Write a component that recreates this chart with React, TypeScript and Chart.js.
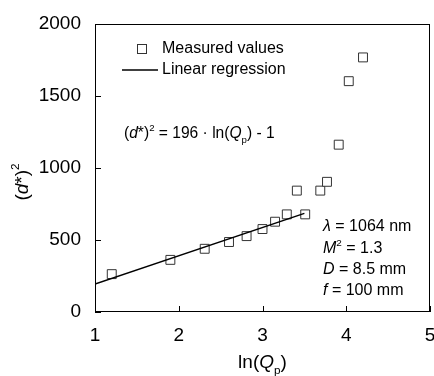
import React, { useEffect, useRef } from "react";
import { Chart, registerables } from "chart.js";

Chart.register(...registerables);

const lnQp = [1.2, 1.9, 2.31, 2.6, 2.81, 3.0, 3.15, 3.29, 3.41, 3.51, 3.69, 3.77, 3.91, 4.03, 4.2];
const dStar2 = [263, 362, 439, 486, 527, 576, 627, 678, 843, 678, 843, 904, 1162, 1603, 1768];
const fitX = [1, 3.5];
const fitY = [195, 685];
const xTicks = [1, 2, 3, 4, 5];
const yTicks = [0, 500, 1000, 1500, 2000];

const FONT = '"Liberation Sans", Arial, sans-serif';

type Seg = { t: string; i?: boolean; sup?: boolean; sub?: boolean };

function richWidth(ctx: CanvasRenderingContext2D, segs: Seg[], size: number) {
  let w = 0;
  for (const s of segs) {
    const fs = s.sup || s.sub ? size * 0.62 : size;
    ctx.font = `${s.i ? "italic " : ""}${fs}px ${FONT}`;
    w += ctx.measureText(s.t).width;
  }
  return w;
}

function drawRich(ctx: CanvasRenderingContext2D, x: number, y: number, segs: Seg[], size: number) {
  ctx.textBaseline = "alphabetic";
  ctx.textAlign = "left";
  let cx = x;
  for (const s of segs) {
    const fs = s.sup || s.sub ? size * 0.62 : size;
    ctx.font = `${s.i ? "italic " : ""}${fs}px ${FONT}`;
    let dy = 0;
    if (s.sup) dy = -size * 0.45;
    if (s.sub) dy = size * 0.3;
    ctx.fillText(s.t, cx, y + dy);
    cx += ctx.measureText(s.t).width;
  }
}

const overlay = {
  id: "overlay",
  afterDraw(chart: any) {
    const ctx: CanvasRenderingContext2D = chart.ctx;
    const a = chart.chartArea;
    const xs = chart.scales.x;
    const ys = chart.scales.y;
    ctx.save();
    ctx.strokeStyle = "#000";
    ctx.fillStyle = "#000";
    ctx.lineWidth = 1;
    // box
    ctx.strokeRect(a.left + 0.5, a.top + 0.5, a.right - a.left - 1, a.bottom - a.top - 1);
    // inward ticks
    ctx.beginPath();
    for (const v of xTicks) {
      const px = Math.round(xs.getPixelForValue(v)) + 0.5;
      ctx.moveTo(px, a.bottom);
      ctx.lineTo(px, a.bottom - 6);
    }
    for (const v of yTicks) {
      const py = Math.round(ys.getPixelForValue(v)) + 0.5;
      ctx.moveTo(a.left, py);
      ctx.lineTo(a.left + 6, py);
    }
    ctx.stroke();

    // legend
    ctx.strokeStyle = "#333";
    ctx.strokeRect(137.5, 44.5, 9, 9);
    ctx.strokeStyle = "#000";
    ctx.lineWidth = 1.5;
    ctx.beginPath();
    ctx.moveTo(122, 70);
    ctx.lineTo(158, 70);
    ctx.stroke();
    ctx.font = `16px ${FONT}`;
    ctx.textBaseline = "middle";
    ctx.textAlign = "left";
    ctx.fillText("Measured values", 162, 49);
    ctx.fillText("Linear regression", 162, 70);

    // equation
    drawRich(ctx, 124, 138, [
      { t: "(" },
      { t: "d", i: true },
      { t: "*)" },
      { t: "2", sup: true },
      { t: " = 196 · ln(" },
      { t: "Q", i: true },
      { t: "p", sub: true },
      { t: ") - 1" },
    ], 15.6);

    // parameters
    drawRich(ctx, 323, 231, [{ t: "λ", i: true }, { t: " = 1064 nm" }], 16);
    drawRich(ctx, 323, 253, [{ t: "M", i: true }, { t: "2", sup: true }, { t: " = 1.3" }], 16);
    drawRich(ctx, 323, 274, [{ t: "D", i: true }, { t: " = 8.5 mm" }], 16);
    drawRich(ctx, 323, 295, [{ t: "f", i: true }, { t: " = 100 mm" }], 16);

    // x title
    const xt: Seg[] = [{ t: "ln(" }, { t: "Q", i: true }, { t: "p", sub: true }, { t: ")" }];
    const xw = richWidth(ctx, xt, 19);
    drawRich(ctx, (a.left + a.right) / 2 - xw / 2, 368, xt, 19);

    // y title
    const yt: Seg[] = [{ t: "(" }, { t: "d", i: true }, { t: "*)" }, { t: "2", sup: true }];
    const yw = richWidth(ctx, yt, 19);
    ctx.translate(28, 182);
    ctx.rotate(-Math.PI / 2);
    drawRich(ctx, -yw / 2, 0, yt, 19);
    ctx.restore();
  },
};

export default function App() {
  const ref = useRef<HTMLCanvasElement>(null);
  useEffect(() => {
    document.body.style.margin = "0";
    const chart = new Chart(ref.current!, {
      type: "scatter",
      data: {
        datasets: [
          {
            label: "Linear regression",
            data: fitX.map((x, i) => ({ x, y: fitY[i] })),
            showLine: true,
            borderColor: "#000",
            borderWidth: 1.5,
            pointRadius: 0,
          },
          {
            label: "Measured values",
            data: lnQp.map((x, i) => ({ x, y: dStar2[i] })),
            pointStyle: "rect",
            pointRadius: 6.3,
            backgroundColor: "#fff",
            borderColor: "#333",
            borderWidth: 1,
          },
        ],
      },
      options: {
        animation: false,
        responsive: false,
        layout: { autoPadding: false, padding: { top: 24, right: 4, left: 0, bottom: 0 } },
        plugins: { legend: { display: false }, tooltip: { enabled: false } },
        scales: {
          x: {
            type: "linear",
            min: 1,
            max: 5,
            afterFit: (s: any) => {
              s.height = 64;
              s.paddingLeft = 0;
              s.paddingRight = 0;
            },
            ticks: { stepSize: 1, color: "#000", font: { size: 19, family: FONT }, padding: 4, maxRotation: 0 },
            grid: { display: false },
            border: { display: false },
          },
          y: {
            type: "linear",
            min: 0,
            max: 2000,
            afterFit: (s: any) => {
              s.width = 95;
              s.paddingTop = 0;
              s.paddingBottom = 0;
            },
            ticks: {
              stepSize: 500,
              color: "#000",
              font: { size: 19, family: FONT },
              padding: 6,
              callback: (v: any) => String(v),
            },
            grid: { display: false },
            border: { display: false },
          },
        },
      },
      plugins: [overlay],
    });
    return () => chart.destroy();
  }, []);
  return <canvas ref={ref} width={434} height={376} style={{ display: "block" }} />;
}
